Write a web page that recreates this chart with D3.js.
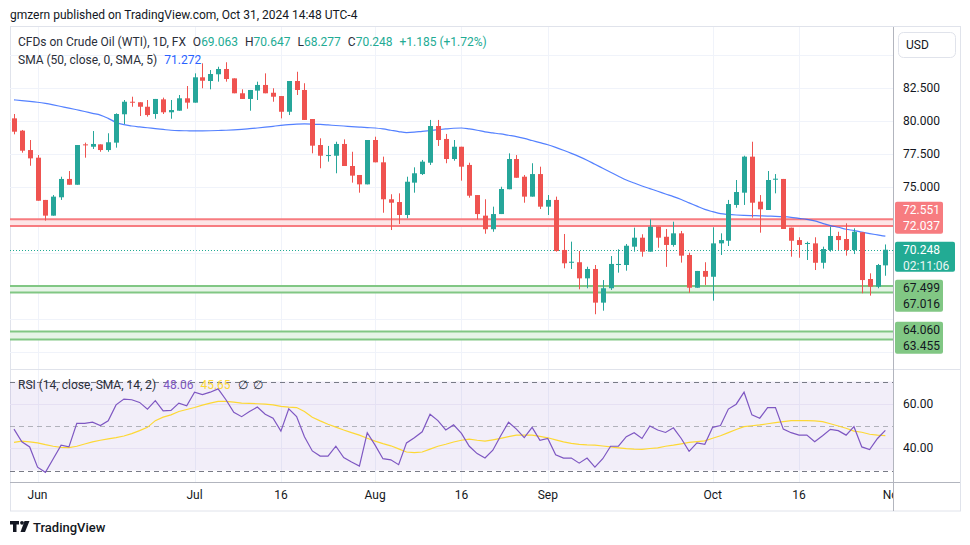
<!DOCTYPE html>
<html><head><meta charset="utf-8">
<script src="https://cdn.jsdelivr.net/npm/d3@7"></script>
<style>
body{margin:0;background:#fff;}
svg{display:block;font-family:"Trebuchet MS",Roboto,"Noto Sans",sans-serif;}
</style>
</head><body>
<svg id="c" width="970" height="545"></svg>
<script>
// ---------- DATA ----------
const firstDate = "2024-05-29";
const openP = [80.20,79.27,77.80,77.22,74.02,72.83,74.22,75.61,75.17,78.23,
78.05,78.23,77.80,78.36,80.51,81.46,81.42,81.08,80.53,81.64,
80.66,80.78,81.72,81.39,83.31,83.03,83.54,83.94,83.23,82.10,
81.67,82.30,82.73,82.14,81.89,80.70,83.03,82.35,80.15,78.18,
77.35,77.37,78.26,76.59,75.91,75.20,78.56,76.87,74.07,73.86,
72.88,75.33,75.98,76.84,79.62,78.64,77.12,78.05,76.67,74.39,
72.83,71.80,72.95,74.83,77.12,75.78,74.27,75.98,73.51,74.02,
70.23,69.26,69.30,68.08,68.79,66.24,67.33,69.09,69.09,70.48,
71.16,70.10,71.99,71.23,70.61,71.49,69.85,67.37,68.64,68.20,
70.73,70.93,73.64,74.57,77.30,73.89,73.26,75.55,75.61,71.92,
70.98,70.68,70.73,69.26,70.23,71.29,71.06,70.23,71.57,68.03,
67.45,69.063];
const highP = [80.53,79.32,78.56,77.42,74.02,74.39,75.78,76.21,78.18,78.36,
79.24,78.23,79.07,80.58,81.59,81.84,81.42,81.59,81.67,81.77,
81.59,81.97,82.65,83.61,84.37,83.86,84.11,84.45,83.23,82.40,
82.35,82.98,83.61,82.48,81.89,83.03,83.73,82.86,80.15,78.69,
78.11,78.43,78.61,77.67,75.91,78.56,78.81,77.30,74.45,74.52,
75.78,76.49,77.05,80.08,80.08,79.02,78.56,78.05,76.84,74.39,
74.07,73.51,75.02,77.55,77.42,75.91,76.80,76.54,74.39,74.27,
71.44,70.86,70.15,68.96,69.09,67.95,69.77,70.28,70.68,71.92,
71.42,72.55,71.99,71.82,72.37,71.67,70.02,68.64,69.30,71.95,
71.49,74.02,75.53,77.37,78.43,74.39,76.21,75.98,75.61,71.92,
71.19,70.86,71.19,70.48,71.99,71.61,72.25,71.87,71.57,68.46,
69.17,70.647];
const lowP = [78.99,77.60,76.61,73.96,72.45,72.83,74.02,75.17,75.17,77.22,
77.88,77.67,77.67,77.98,79.77,81.08,80.38,80.33,80.17,80.53,
80.17,80.78,80.93,81.39,82.48,82.40,82.98,82.98,82.10,81.67,
80.78,81.59,82.10,81.46,80.20,80.45,81.97,80.08,77.55,76.42,
76.92,76.04,76.59,75.33,74.57,75.20,76.87,73.05,71.74,72.20,
72.63,74.57,75.91,76.67,78.11,76.80,76.99,75.48,74.19,72.55,
71.46,71.61,72.95,74.83,75.70,73.81,74.27,73.33,72.88,70.10,
68.84,68.79,67.25,67.33,65.36,65.63,67.20,68.51,68.66,70.10,
69.72,70.10,70.40,68.95,70.48,69.27,66.99,67.37,67.58,66.39,
69.85,70.53,73.43,73.64,72.68,71.54,73.26,74.52,71.82,69.72,
69.64,69.47,68.71,68.82,70.10,70.23,69.80,69.92,66.95,66.77,
67.33,68.277];
const closeP = [79.19,77.75,77.17,73.96,72.83,74.27,75.61,75.17,78.18,78.16,
78.26,77.80,78.39,80.53,81.46,81.39,81.08,80.45,81.67,80.66,
80.83,81.72,81.39,83.31,83.05,83.56,83.94,83.18,82.10,81.67,
82.35,82.73,82.10,81.84,80.70,83.03,82.35,80.08,78.13,77.37,
77.42,78.26,76.59,75.86,75.20,78.56,76.87,74.07,73.81,72.88,
75.40,76.04,76.92,79.62,78.56,77.12,78.05,76.54,74.34,72.95,
71.80,72.95,74.85,77.12,75.70,74.27,75.98,73.51,74.02,70.15,
69.22,69.34,68.08,68.79,66.24,67.33,69.17,69.17,70.55,71.16,
70.10,71.99,71.16,70.61,71.49,69.80,67.37,68.64,68.20,70.73,
70.98,73.71,74.62,77.30,73.81,73.31,75.53,75.63,71.82,70.93,
70.61,70.76,69.26,70.30,71.29,70.98,70.23,71.61,67.95,67.45,
69.09,70.248];
const sma50 = [81.60,81.55,81.49,81.42,81.33,81.22,81.10,80.98,80.85,80.72,
80.58,80.45,80.20,79.90,79.72,79.62,79.55,79.49,79.42,79.36,
79.30,79.27,79.26,79.25,79.25,79.26,79.28,79.30,79.33,79.37,
79.42,79.47,79.53,79.60,79.67,79.73,79.77,79.78,79.77,79.74,
79.70,79.66,79.62,79.58,79.54,79.50,79.47,79.40,79.30,79.20,
79.12,79.15,79.22,79.28,79.34,79.40,79.45,79.47,79.40,79.30,
79.18,79.10,79.02,78.92,78.82,78.68,78.52,78.36,78.20,78.00,
77.78,77.55,77.30,77.03,76.72,76.42,76.12,75.82,75.53,75.30,
75.08,74.88,74.68,74.47,74.27,74.05,73.80,73.55,73.30,73.13,
72.98,72.92,72.88,72.85,72.83,72.82,72.80,72.78,72.75,72.70,
72.62,72.55,72.43,72.25,72.08,71.95,71.80,71.70,71.58,71.47,
71.37,71.272];
const rsi14 = [48.6,42.9,40.6,31.5,29.2,35.3,41.4,40.6,51.2,51.2,
51.7,50.2,52.3,59.5,62.1,61.8,60.6,57.6,61.4,56.8,
57.0,60.3,59.1,65.2,64.1,65.2,66.7,61.8,56.2,54.2,
56.5,58.5,55.3,53.5,47.7,57.7,54.2,45.2,38.8,36.5,
36.5,40.9,35.8,33.8,32.0,47.0,41.4,35.3,34.8,32.6,
42.4,44.7,47.4,55.3,52.4,48.2,50.5,46.7,40.9,37.6,
35.6,39.1,45.6,51.7,48.6,44.8,49.4,43.6,44.4,37.1,
35.6,35.6,33.3,35.6,31.5,35.3,40.9,40.9,45.2,47.0,
44.4,50.0,48.2,47.1,49.2,44.4,38.6,42.4,41.8,49.4,
50.2,57.6,59.8,65.2,55.0,53.5,58.3,58.3,48.6,47.0,
45.9,45.9,42.9,45.6,48.5,47.9,45.9,49.7,40.6,39.4,
44.4,48.06];
const rsiSma = [42.6,43.2,42.9,42.4,41.6,40.9,40.4,40.3,40.9,41.9,
42.9,43.6,44.2,44.8,45.5,46.6,47.9,49.4,52.4,54.0,
55.0,56.5,57.4,58.3,59.4,60.3,61.1,61.1,60.7,60.3,
60.2,60.0,59.8,59.5,58.8,58.5,58.3,56.5,53.9,52.3,
50.8,49.5,48.2,47.0,45.9,44.5,43.2,42.1,41.1,39.7,
38.3,38.0,38.3,39.6,40.9,41.8,42.8,43.6,44.1,43.6,
43.2,43.8,44.4,45.2,45.9,45.9,45.9,45.3,44.7,43.8,
42.9,42.2,41.7,41.5,41.4,41.0,40.6,40.2,39.8,39.6,
39.5,39.9,40.2,40.9,41.4,42.0,42.6,43.0,43.3,44.5,
45.6,47.0,48.4,49.7,50.1,50.5,51.0,51.5,52.0,52.4,
52.4,52.4,52.3,52.0,51.0,50.0,49.0,47.7,47.2,46.3,
45.9,45.65];
const resistanceBand = [72.551, 72.037];
const supportBand1 = [67.499, 67.016];
const supportBand2 = [64.060, 63.455];
const lastPrice = 70.248;
const countdown = "02:11:06";
const smaLast = 71.272;
const priceTicks = [62.5, 65, 67.5, 70, 72.5, 75, 77.5, 80, 82.5, 85];
const rsiTicks = [40, 60];
const rsiLevels = [70, 50, 30];
const tickDates = ["2024-06-03","2024-07-01","2024-07-16","2024-08-01","2024-08-16","2024-09-02","2024-10-01","2024-10-16","2024-11-01"];
const tickLabels = ["Jun","Jul","16","Aug","16","Sep","Oct","16","Nov"];
const headerText = "gmzern published on TradingView.com, Oct 31, 2024 14:48 UTC-4";
const symbolText = "CFDs on Crude Oil (WTI), 1D, FX";
const smaLegend = "SMA (50, close, 0, SMA, 5)";
const rsiLegend = "RSI (14, close, SMA, 14, 2)";

// ---------- LAYOUT ----------
const N = closeP.length;
const paneL = 10, paneR = 893, frameR = 960;
const mainT = 27, mainB = 369, rsiT = 370, rsiB = 482, frameB = 511;
const GREEN = "#26a69a", RED = "#ef5350", TEXT = "#131722", LEG = "#2a2e39", GRID = "#f0f3fa", BORDER = "#e0e3eb";
const FS = 12;

function dayIndex(s){
  const start = new Date(firstDate+"T00:00:00Z"), end = new Date(s+"T00:00:00Z");
  let k = -1; const d = new Date(start);
  while (d <= end){ if (d.getUTCDay()%6 !== 0) k++; d.setUTCDate(d.getUTCDate()+1); }
  return k;
}

const x = d3.scaleLinear().domain([0, N-1]).range([14, 885.35]);
const y = d3.scaleLinear().domain([65, 80]).range([319, 121]);
const yr = d3.scaleLinear().domain([30, 70]).range([470.5, 381.5]);

const svg = d3.select("#c");
const defs = svg.append("defs");
defs.append("clipPath").attr("id","mainClip").append("rect").attr("x",paneL).attr("y",mainT).attr("width",paneR-paneL).attr("height",mainB-mainT);
defs.append("clipPath").attr("id","rsiClip").append("rect").attr("x",paneL).attr("y",rsiT).attr("width",paneR-paneL).attr("height",rsiB-rsiT);
defs.append("clipPath").attr("id","timeClip").append("rect").attr("x",paneL).attr("y",rsiB).attr("width",paneR-paneL).attr("height",frameB-rsiB);

// header
svg.append("text").attr("x",10).attr("y",19).attr("font-size",FS).attr("fill",TEXT).text(headerText);

// frame
svg.append("rect").attr("x",paneL+0.5).attr("y",mainT-0.5).attr("width",frameR-paneL).attr("height",frameB-mainT+0.5)
  .attr("fill","none").attr("stroke",BORDER);

// grids
const tickIdx = tickDates.map(dayIndex);
const grid = svg.append("g");
grid.selectAll("line.v").data(tickIdx.filter(d=>x(d)<paneR-1)).join("line")
  .attr("x1",d=>Math.round(x(d))+0.5).attr("x2",d=>Math.round(x(d))+0.5)
  .attr("y1",mainT).attr("y2",mainB).attr("stroke",GRID);
grid.selectAll("line.h").data(priceTicks).join("line")
  .attr("x1",paneL).attr("x2",paneR).attr("y1",d=>Math.round(y(d))+0.5).attr("y2",d=>Math.round(y(d))+0.5)
  .attr("stroke",GRID);

// ---------- MAIN PANE ----------
const main = svg.append("g").attr("clip-path","url(#mainClip)");

function band(vals, lineCol, fillCol){
  const a = y(vals[0]), b = y(vals[1]);
  main.append("rect").attr("x",paneL).attr("width",paneR-paneL).attr("y",a).attr("height",b-a).attr("fill",fillCol);
  vals.forEach(v=>main.append("line").attr("x1",paneL).attr("x2",paneR).attr("y1",y(v)).attr("y2",y(v))
    .attr("stroke",lineCol).attr("stroke-width",2));
}
band(resistanceBand, "#f77c80", "#fde5e6");
band(supportBand1, "#81c784", "#e6f4e7");
band(supportBand2, "#81c784", "#e6f4e7");

main.append("line").attr("x1",paneL).attr("x2",paneR).attr("y1",Math.round(y(lastPrice))+0.5).attr("y2",Math.round(y(lastPrice))+0.5)
  .attr("stroke","#22ab94").attr("stroke-dasharray","1,2");

main.append("path").datum(sma50).attr("fill","none").attr("stroke","#2962ff").attr("stroke-opacity",0.8).attr("stroke-width",1.2)
  .attr("d", d3.line().x((d,i)=>x(i)).y(d=>y(d)).curve(d3.curveMonotoneX));

const cg = main.selectAll("g.candle").data(d3.range(N)).join("g")
  .attr("fill",i=>closeP[i]>=openP[i]?GREEN:RED).attr("stroke",i=>closeP[i]>=openP[i]?GREEN:RED);
cg.append("line")
  .attr("x1",i=>Math.round(x(i))+0.5).attr("x2",i=>Math.round(x(i))+0.5)
  .attr("y1",i=>y(highP[i])).attr("y2",i=>y(lowP[i])).attr("stroke-width",1);
cg.append("rect").attr("stroke","none")
  .attr("x",i=>Math.round(x(i))-2).attr("width",5)
  .attr("y",i=>y(Math.max(openP[i],closeP[i])))
  .attr("height",i=>Math.max(1, Math.abs(y(openP[i])-y(closeP[i]))));

// legend main
const lg = svg.append("text").attr("x",18).attr("y",46).attr("font-size",FS).attr("fill",LEG);
lg.append("tspan").text(symbolText);
const last = N-1;
const ohlc = [["O",openP[last]],["H",highP[last]],["L",lowP[last]],["C",closeP[last]]];
ohlc.forEach((p,k)=>{
  lg.append("tspan").attr("dx", k===0?7:7).text(p[0]);
  lg.append("tspan").attr("fill","#22ab94").text(d3.format(".3f")(p[1]));
});
const chg = closeP[last]-openP[last];
lg.append("tspan").attr("dx",7).attr("fill","#22ab94").text("+"+d3.format(".3f")(chg)+" (+"+d3.format(".2f")(chg/openP[last]*100)+"%)");
const sl = svg.append("text").attr("x",18).attr("y",64).attr("font-size",FS).attr("fill",LEG);
sl.append("tspan").text(smaLegend);
sl.append("tspan").attr("dx",7).attr("fill","#2962ff").text(d3.format(".3f")(smaLast));

// ---------- RSI PANE ----------
svg.append("line").attr("x1",paneL).attr("x2",frameR).attr("y1",mainB+0.5).attr("y2",mainB+0.5).attr("stroke",BORDER);
const rp = svg.append("g").attr("clip-path","url(#rsiClip)");
rp.selectAll("line.vg").data(tickIdx).join("line")
  .attr("x1",d=>Math.round(x(d))+0.5).attr("x2",d=>Math.round(x(d))+0.5).attr("y1",rsiT).attr("y2",rsiB).attr("stroke",GRID);
rp.append("rect").attr("x",paneL).attr("width",paneR-paneL).attr("y",yr(70)).attr("height",yr(30)-yr(70)).attr("fill","rgba(126,87,194,0.1)");
rp.selectAll("line.g").data(rsiTicks).join("line").attr("x1",paneL).attr("x2",paneR)
  .attr("y1",d=>Math.round(yr(d))+0.5).attr("y2",d=>Math.round(yr(d))+0.5).attr("stroke","#e6e0f3");
rp.selectAll("line.lv").data(rsiLevels).join("line").attr("x1",paneL).attr("x2",paneR)
  .attr("y1",d=>Math.round(yr(d))+0.5).attr("y2",d=>Math.round(yr(d))+0.5)
  .attr("stroke",d=>d===50?"#9598a1":"#787b86").attr("stroke-dasharray","5,4").attr("stroke-opacity",d=>d===50?0.7:1);
rp.append("path").datum(rsiSma).attr("fill","none").attr("stroke","#fdd835").attr("stroke-width",1.2)
  .attr("d", d3.line().x((d,i)=>x(i)).y(d=>yr(d)));
rp.append("path").datum(rsi14).attr("fill","none").attr("stroke","#7e57c2").attr("stroke-width",1.2)
  .attr("d", d3.line().x((d,i)=>x(i)).y(d=>yr(d)));
const rl = svg.append("text").attr("x",18).attr("y",389).attr("font-size",FS).attr("fill",LEG);
rl.append("tspan").text(rsiLegend);
rl.append("tspan").attr("dx",7).attr("fill","#7e57c2").text(d3.format(".2f")(rsi14[last]));
rl.append("tspan").attr("dx",7).attr("fill","#fdd835").text(d3.format(".2f")(rsiSma[last]));
rl.append("tspan").attr("dx",7).text("\u2205");
rl.append("tspan").attr("dx",5).text("\u2205");

// ---------- AXES ----------
svg.append("line").attr("x1",paneR+0.5).attr("x2",paneR+0.5).attr("y1",mainT).attr("y2",frameB).attr("stroke","#b2b5be");
svg.append("line").attr("x1",paneL).attr("x2",frameR).attr("y1",rsiB+0.5).attr("y2",rsiB+0.5).attr("stroke","#b2b5be");

const ta = svg.append("g").attr("clip-path","url(#timeClip)");
ta.selectAll("text").data(tickIdx).join("text")
  .attr("x",d=>x(d)).attr("y",499).attr("text-anchor","middle").attr("font-size",FS).attr("fill",TEXT)
  .text((d,i)=>tickLabels[i]);

// price axis boxes (stacked to avoid overlap)
const lineH = 16;
const tealTop = y(lastPrice)-8, tealBot = tealTop + 2*lineH - 2;
const boxes = [];
{
  const bot = tealTop - 8, top = bot - 2*lineH;
  boxes.push({top, h:2*lineH, w:48, fill:"#f77c80", col:"#fff", lines:resistanceBand.map(d3.format(".3f"))});
}
boxes.push({top:tealTop, h:tealBot-tealTop, w:60, fill:"#22ab94", col:"#fff", lines:[d3.format(".3f")(lastPrice), countdown]});
{
  const top1 = Math.max(tealBot + 8, (y(supportBand1[0])+y(supportBand1[1]))/2 - lineH);
  boxes.push({top:top1, h:2*lineH, w:48, fill:"#81c784", col:TEXT, lines:supportBand1.map(d3.format(".3f"))});
  const top2 = Math.max(top1 + 2*lineH + 10, (y(supportBand2[0])+y(supportBand2[1]))/2 - lineH);
  boxes.push({top:top2, h:2*lineH, w:48, fill:"#81c784", col:TEXT, lines:supportBand2.map(d3.format(".3f"))});
}

const pa = svg.append("g");
priceTicks.filter(t=>{
  const yy = y(t);
  if (yy < 70 || yy > mainB-8) return false;
  return !boxes.some(b=> yy+6 > b.top && yy-6 < b.top+b.h);
}).forEach(t=>{
  pa.append("text").attr("x",903).attr("y",y(t)).attr("dy","0.35em").attr("font-size",FS).attr("fill",TEXT).text(d3.format(".3f")(t));
});
boxes.forEach(b=>{
  pa.append("rect").attr("x",895).attr("y",b.top).attr("width",b.w).attr("height",b.h).attr("rx",2).attr("fill",b.fill);
  b.lines.forEach((s,k)=>pa.append("text").attr("x",903).attr("y",b.top+8+k*lineH).attr("dy","0.35em")
    .attr("font-size",FS).attr("fill",b.col).attr("opacity",k===1&&b.fill==="#22ab94"?0.9:1).text(s));
});

svg.selectAll("text.ra").data(rsiTicks).join("text").attr("x",903).attr("y",d=>yr(d)).attr("dy","0.35em")
  .attr("font-size",FS).attr("fill",TEXT).text(d=>d3.format(".2f")(d));

// USD button
svg.append("rect").attr("x",898.5).attr("y",32.5).attr("width",57).attr("height",25).attr("rx",5).attr("fill","#fff").attr("stroke",BORDER);
svg.append("text").attr("x",906).attr("y",45).attr("dy","0.35em").attr("font-size",FS).attr("fill",TEXT).text("USD");

// footer logo
const fl = svg.append("g").attr("fill",TEXT);
fl.append("rect").attr("x",10).attr("y",521).attr("width",9).attr("height",3.5);
fl.append("rect").attr("x",13).attr("y",521).attr("width",3.5).attr("height",11);
fl.append("circle").attr("cx",22).attr("cy",522.8).attr("r",1.9);
fl.append("path").attr("d","M24.5 521 L29.5 521 L25 532 L20.5 532 Z");
svg.append("text").attr("x",33).attr("y",531.5).attr("font-size",13).attr("font-weight",500).attr("fill",TEXT).text("TradingView");
</script>
</body></html>
